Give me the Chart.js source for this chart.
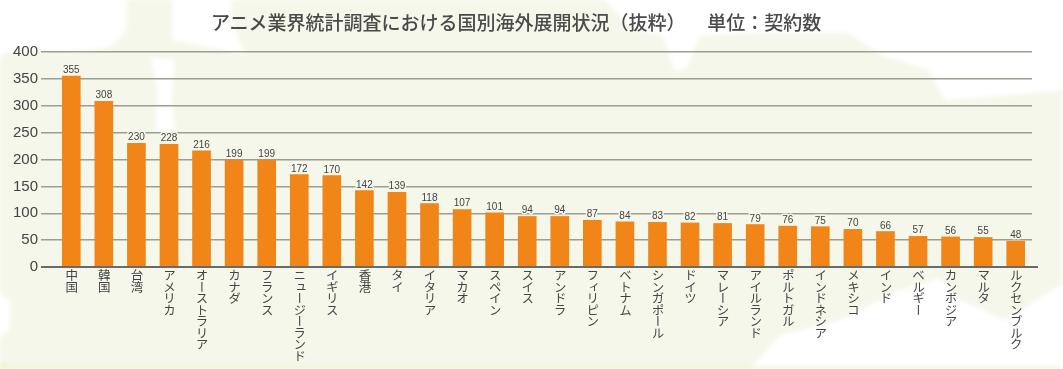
<!DOCTYPE html>
<html lang="ja">
<head>
<meta charset="utf-8">
<script src="https://cdn.jsdelivr.net/npm/chart.js@4"></script>
<style>
  html, body { margin: 0; padding: 0; background: #fff; overflow: hidden; }
  #wrap { position: relative; width: 1063px; height: 369px; overflow: hidden; }
  #bg, #c { position: absolute; left: 0; top: 0; }
  #bg { filter: blur(2px); }
  #c, #title, .xlabel { filter: blur(0.4px); }
  #title {
    position: absolute; left: 211px; top: 9px; white-space: pre;
    font: 500 19px "Noto Sans CJK JP", sans-serif; line-height: 26px; color: #4a4a4a;
  }
  #title span { margin-left: 12px; }
  .xlabel {
    position: absolute; top: 269px; transform: translateX(-50%);
    writing-mode: vertical-rl; text-orientation: upright; white-space: nowrap;
    font: 12.5px/14px "Noto Sans CJK JP", sans-serif; letter-spacing: -1px; color: #444;
  }
</style>
</head>
<body>
<div id="wrap">
  <!-- 배경 지도 -->
  <svg id="bg" width="1063" height="369">
    <path fill="#f4f7ea" d="M-5 60 L8 52 L60 52 L110 48 L127 30 L127 -5 L172 -5 L172 40 L245 55 L232 20 L232 -5 L600 -5 L632 30 L662 35 L675 72 L687 68 L700 36 L755 33 L848 33 L880 55 L928 70 L945 100 L1000 96 L1034 93 L1068 90 L1068 280 L1005 320 L960 300 L940 278 L900 290 L840 320 L780 335 L745 374 L-5 374 L-5 340 L10 330 L10 300 L-5 290 Z"/>
    <path fill="#ffffff" d="M150 57 L175 60 L172 100 L176 130 L155 130 L158 90 Z"/>
    <path fill="#e6f0bf" d="M0 369 L0 360 Q2 367 10 367 L1063 367 L1063 369 Z"/>
  </svg>
  <canvas id="c" width="1063" height="369"></canvas>
  <div id="title">アニメ業界統計調査における国別海外展開状況（抜粋）　<span>単位：契約数</span></div>
</div>
<script>
// 국가별 계약 수
const categories = ['中国', '韓国', '台湾', 'アメリカ', 'オーストラリア', 'カナダ', 'フランス', 'ニュージーランド', 'イギリス', '香港',
    'タイ', 'イタリア', 'マカオ', 'スペイン', 'スイス', 'アンドラ', 'フィリピン', 'ベトナム', 'シンガポール', 'ドイツ',
    'マレーシア', 'アイルランド', 'ポルトガル', 'インドネシア', 'メキシコ', 'インド', 'ベルギー', 'カンボジア', 'マルタ', 'ルクセンブルク'];
const contracts = [355, 308, 230, 228, 216, 199, 199, 172, 170, 142,
    139, 118, 107, 101, 94, 94, 87, 84, 83, 82,
    81, 79, 76, 75, 70, 66, 57, 56, 55, 48];

// 막대 위 숫자와 0 기준선
const overlay = {
    id: 'overlay',
    afterDatasetsDraw(chart) {
        const ctx = chart.ctx;
        const y0 = chart.scales.y.getPixelForValue(0);
        ctx.save();
        ctx.strokeStyle = '#666c6a';
        ctx.lineWidth = 2;
        ctx.beginPath();
        ctx.moveTo(41, y0);
        ctx.lineTo(1038, y0);
        ctx.stroke();

        ctx.font = '10px "Liberation Sans", sans-serif';
        ctx.textAlign = 'center';
        ctx.textBaseline = 'alphabetic';
        ctx.lineJoin = 'round';
        chart.getDatasetMeta(0).data.forEach((bar, i) => {
            ctx.strokeStyle = '#f4f7ea';
            ctx.lineWidth = 3;
            ctx.strokeText(contracts[i], bar.x, bar.y - 3);
            ctx.fillStyle = '#444';
            ctx.fillText(contracts[i], bar.x, bar.y - 3);
        });
        ctx.restore();
    }
};

const chartInstance = new Chart(document.getElementById('c'), {
    type: 'bar',
    data: {
        labels: categories,
        datasets: [{
            data: contracts,
            backgroundColor: '#f18518',
            barThickness: 18
        }]
    },
    options: {
        responsive: false,
        animation: false,
        layout: { padding: { top: 52, right: 31, bottom: 102, left: 0 } },
        plugins: { legend: { display: false }, tooltip: { enabled: false } },
        scales: {
            x: {
                grid: { display: false },
                border: { display: false },
                ticks: { display: false },
                afterFit(scale) { scale.height = 0; }
            },
            y: {
                min: 0,
                max: 400,
                afterFit(scale) { scale.width = 55; },
                grid: { color: '#9b9e90', lineWidth: 1.5, tickLength: 14 },
                border: { display: false },
                ticks: {
                    stepSize: 50,
                    padding: 3,
                    color: '#444',
                    font: { family: '"Liberation Sans", sans-serif', size: 15 }
                }
            }
        }
    },
    plugins: [overlay]
});

// 세로쓰기 국가명 라벨
const wrap = document.getElementById('wrap');
categories.forEach((name, i) => {
    const el = document.createElement('div');
    el.className = 'xlabel';
    el.textContent = name;
    el.style.left = chartInstance.scales.x.getPixelForValue(i) + 'px';
    wrap.appendChild(el);
});
</script>
</body>
</html>
